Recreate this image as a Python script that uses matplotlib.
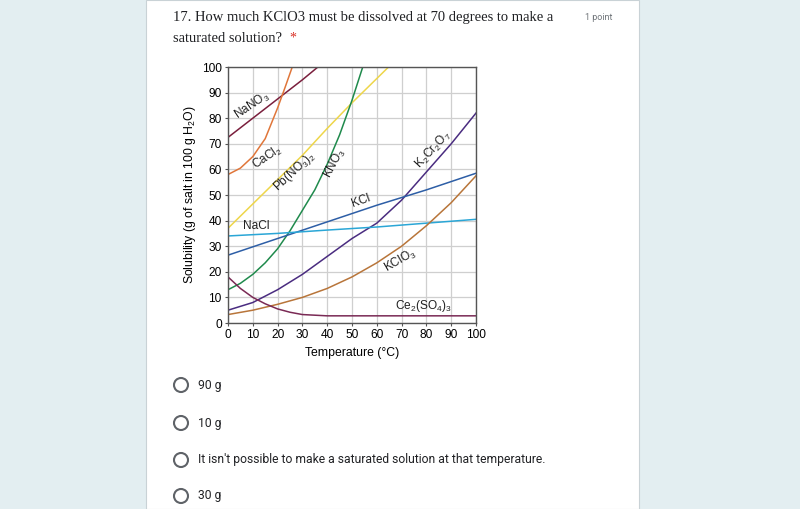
import matplotlib.pyplot as plt
from matplotlib.patches import Rectangle, Ellipse

plt.rcParams['mathtext.fontset'] = 'custom'
plt.rcParams['mathtext.rm'] = 'Liberation Sans'
plt.rcParams['mathtext.it'] = 'Liberation Sans'
plt.rcParams['mathtext.default'] = 'regular'

# solubility readings (temperature in C, g per 100 g water)
nano3_t = [0, 10, 20, 30, 40]
nano3_s = [72.5, 80, 87.5, 95, 103]

cacl2_t = [0, 5, 10, 15, 20, 23, 25, 27, 28]
cacl2_s = [58, 60.5, 65, 72, 84, 92, 97.5, 103, 106]

pbno3_t = [0, 10, 20, 30, 40, 50, 60, 70]
pbno3_s = [37, 46.5, 56, 65.5, 76, 86, 95.5, 105]

kno3_t = [0, 5, 10, 15, 20, 25, 30, 35, 40, 45, 50, 55]
kno3_s = [13, 15.5, 19, 23.5, 29, 36, 44, 52, 62, 73.5, 87, 102]

k2cr2o7_t = [0, 10, 20, 30, 40, 50, 60, 70, 80, 90, 100]
k2cr2o7_s = [5, 8, 13, 19, 26, 33, 39, 48, 59, 70, 82]

kcl_t = [0, 20, 40, 60, 80, 100]
kcl_s = [26.5, 33, 39.5, 46, 52, 58.5]

nacl_t = [0, 20, 40, 60, 80, 100]
nacl_s = [34, 35, 36.3, 37.5, 39, 40.5]

kclo3_t = [0, 10, 20, 30, 40, 50, 60, 70, 80, 90, 100]
kclo3_s = [3.3, 5, 7.3, 10, 13.5, 18, 23.5, 30, 38, 47, 57.5]

ce2so4_t = [0, 5, 10, 15, 20, 25, 30, 40, 60, 80, 100]
ce2so4_s = [18, 13.5, 10, 7.5, 5.5, 4.2, 3.3, 2.8, 2.8, 2.8, 2.8]

series = [
    (nano3_t, nano3_s, '#7a1f3d', 'NaNO$_3$', 9.7, 85, 34),
    (cacl2_t, cacl2_s, '#e0763a', 'CaCl$_2$', 15.9, 64.5, 34),
    (pbno3_t, pbno3_s, '#eed64a', 'Pb(NO$_3$)$_2$', 26.8, 59, 43),
    (kno3_t, kno3_s, '#1f8a4c', 'KNO$_3$', 43.0, 62.5, 62),
    (k2cr2o7_t, k2cr2o7_s, '#4a2c80', 'K$_2$Cr$_2$O$_7$', 82.7, 67.5, 47),
    (kcl_t, kcl_s, '#2d5ea6', 'KCl', 53.6, 47.5, 20),
    (nacl_t, nacl_s, '#2aa6d6', 'NaCl', 11.3, 37.8, 0),
    (kclo3_t, kclo3_s, '#b8753a', 'KClO$_3$', 69.6, 24.2, 30),
    (ce2so4_t, ce2so4_s, '#7a2a55', 'Ce$_2$(SO$_4$)$_3$', 78.6, 6.8, 0),
]

options = ['90 g', '10 g',
           "It isn't possible to make a saturated solution at that temperature.",
           '30 g']

W, H = 800, 509
fig = plt.figure(figsize=(8, 5.09), dpi=100, facecolor='#e3eef1')

# white card, kept behind the axes
fig.patches.append(Rectangle((146 / W, 0), (639 - 146) / W, 1, transform=fig.transFigure,
                             facecolor='white', edgecolor='#c9d2d6', linewidth=0.8,
                             zorder=-5))

serif = ['Liberation Serif', 'DejaVu Serif']
fig.text(173 / W, 1 - 18 / H, '17. How much KClO3 must be dissolved at 70 degrees to make a',
         family=serif, fontsize=10.5, color='#202124', va='center')
fig.text(173 / W, 1 - 39 / H, 'saturated solution?', family=serif, fontsize=10.5,
         color='#202124', va='center')
fig.text(289 / W, 1 - 38 / H, '*', family=serif, fontsize=10, color='#d93025', va='center')
fig.text(585 / W, 1 - 18 / H, '1 point', family='Roboto', fontsize=6.5, color='#70757a',
         va='center')

ax = fig.add_axes([228 / W, 1 - 323 / H, (476 - 228) / W, (323 - 67) / H])
for t, s, c, name, lx, ly, rot in series:
    ax.plot(t, s, color=c, linewidth=1.1)
    ax.text(lx, ly, name, rotation=rot, ha='center', va='center', fontsize=8.6,
            family='Liberation Sans', color='#222222', rotation_mode='anchor')

ax.set_xlim(0, 100)
ax.set_ylim(0, 100)
ax.set_xticks(range(0, 101, 10))
ax.set_yticks(range(0, 101, 10))
ax.grid(True, color='#cfcfcf', linewidth=0.9)
ax.set_axisbelow(True)
for sp in ax.spines.values():
    sp.set_color('#555555')
    sp.set_linewidth(1.0)
ax.tick_params(length=2, width=0.8, color='#555555', labelsize=8.6, pad=2.5)
for lab in ax.get_xticklabels() + ax.get_yticklabels():
    lab.set_family('Liberation Sans')
ax.set_xlabel('Temperature (°C)', family='Liberation Sans', fontsize=8.8, labelpad=4)
ax.set_ylabel('Solubility (g of salt in 100 g H$_2$O)', family='Liberation Sans',
              fontsize=8.8, labelpad=3)

# radio options
ys = [385, 423, 460, 496]
for y, txt in zip(ys, options):
    fig.patches.append(Ellipse((181 / W, 1 - y / H), 14 / W, 14 / H, transform=fig.transFigure,
                               facecolor='none', edgecolor='#5f6368', linewidth=1.5))
    fig.text(198 / W, 1 - y / H, txt, family='Roboto', fontsize=8.7, color='#202124',
             va='center')

fig.savefig('out.png', dpi=100, facecolor=fig.get_facecolor())
